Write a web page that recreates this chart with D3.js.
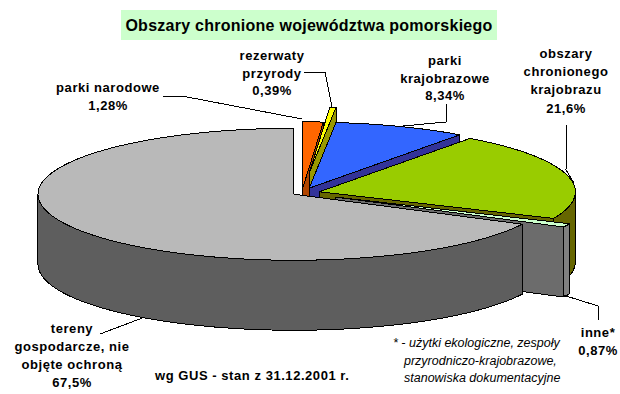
<!DOCTYPE html>
<html>
<head>
<meta charset="utf-8">
<script src="https://d3js.org/d3.v7.min.js"></script>
<style>
  html, body { margin: 0; padding: 0; background: #fff; }
  svg { display: block; }
  text { font-family: "Liberation Sans", Arial, sans-serif; fill: #000; }
</style>
</head>
<body>
<svg id="chart"></svg>
<script>
// dane - od godziny 12 zgodnie z zegarem
const categories = ["parki narodowe", "rezerwaty przyrody", "parki krajobrazowe", "obszary chronionego krajobrazu", "inne*", "tereny gospodarcze, nie objęte ochroną"];
const values = [1.28, 0.39, 8.34, 21.6, 0.87, 67.5];
const valueLabels = ["1,28%", "0,39%", "8,34%", "21,6%", "0,87%", "67,5%"];
const titleText = "Obszary chronione województwa pomorskiego";
const sourceText = "wg GUS - stan z 31.12.2001 r.";
const noteLines = ["* - użytki ekologiczne, zespoły", "przyrodniczo-krajobrazowe,", "stanowiska dokumentacyjne"];

// wyglad
const width = 620, height = 394;
const cx = 302, cy = 193, rx = 256, ry = 66, depth = 70;
const explode = [20, 78, 20, 18, 37, 9.4];
const topColors = ["#ff6600", "#ffff00", "#3366ff", "#99cc00", "#ccffcc", "#b9b9b9"];
const wallColors = ["#b04500", "#999900", "#333399", "#666600", "#6c6c6c", "#5e5e5e"];
const rimColors = ["#b04500", "#999900", "#333399", "#666600", "#808080", "#5e5e5e"];

const labelLines = [
    ["parki narodowe"],
    ["rezerwaty", "przyrody"],
    ["parki", "krajobrazowe"],
    ["obszary", "chronionego", "krajobrazu"],
    ["inne*"],
    ["tereny", "gospodarcze, nie", "objęte ochroną"]
];
const labelPos = [[108, 92], [272, 60], [445, 65], [566, 58], [598, 337], [72, 333]];
const leaders = [
    [[163, 96], [182, 96], [302, 119]],
    [[304, 72], [325, 72], [332, 107]],
    [[446, 104], [446, 122], [403, 126]],
    [[567, 125], [566, 170], [574, 183]],
    [[563, 295], [598, 306], [598, 320]],
    [[100, 334], [145, 317]]
];

const svg = d3.select("#chart").attr("width", width).attr("height", height);

const pie = d3.pie().sort(null).value(d => d)(values);
const line = d3.line().curve(d3.curveLinear);

// punkt na obwodzie elipsy
function rimPoint(c, a, dy) {
    return [c[0] + rx * Math.sin(a), c[1] - ry * Math.cos(a) + (dy || 0)];
}

function sliceCenter(d, i) {
    const mid = (d.startAngle + d.endAngle) / 2;
    return [cx + explode[i] * Math.sin(mid), cy - explode[i] * Math.cos(mid) * ry / rx];
}

function arcAngles(a0, a1) {
    const n = Math.max(2, Math.ceil((a1 - a0) / 0.02));
    return d3.range(n + 1).map(k => a0 + (a1 - a0) * k / n);
}

function poly(points, fill) {
    svg.append("path")
        .attr("d", line(points) + "Z")
        .attr("fill", fill)
        .attr("stroke", "#000")
        .attr("stroke-width", 1)
        .attr("stroke-linejoin", "round")
        .attr("shape-rendering", "crispEdges");
}

pie.forEach((d, i) => {
    const c = sliceCenter(d, i);
    const bottom = [c[0], c[1] + depth];

    // sciana ciecia
    if (Math.sin(d.endAngle) > 0.001) {
        poly([c, rimPoint(c, d.endAngle), rimPoint(c, d.endAngle, depth), bottom], wallColors[i]);
    }
    if (Math.sin(d.startAngle) < -0.001) {
        poly([c, rimPoint(c, d.startAngle), rimPoint(c, d.startAngle, depth), bottom], wallColors[i]);
    }

    // sciana zewnetrzna - tylko widoczna czesc
    const a0 = Math.max(d.startAngle, Math.PI / 2), a1 = Math.min(d.endAngle, Math.PI * 1.5);
    if (a1 > a0) {
        const angles = arcAngles(a0, a1);
        poly(angles.map(a => rimPoint(c, a)).concat(angles.slice().reverse().map(a => rimPoint(c, a, depth))), rimColors[i]);
    }

    // wierzch
    poly([c].concat(arcAngles(d.startAngle, d.endAngle).map(a => rimPoint(c, a))), topColors[i]);
});

// linie odniesienia
leaders.forEach(pts => {
    svg.append("path").attr("d", line(pts)).attr("fill", "none").attr("stroke", "#000")
        .attr("stroke-width", 1).attr("shape-rendering", "crispEdges");
});

// tytul
svg.append("rect").attr("x", 121).attr("y", 10).attr("width", 376).attr("height", 30).attr("fill", "#ccffcc");
svg.append("text").attr("x", 309).attr("y", 31).attr("text-anchor", "middle")
    .style("font-size", "16px").style("font-weight", "bold").style("letter-spacing", "0.26px").text(titleText);

// etykiety
const labelStep = [18, 17.5, 17.5, 18.2, 18, 18];
categories.forEach((name, i) => {
    const lines = labelLines[i].concat(valueLabels[i]);
    const t = svg.append("text").attr("text-anchor", "middle")
        .style("font-size", "13px").style("font-weight", "bold").style("letter-spacing", "0.55px");
    lines.forEach((s, k) => {
        t.append("tspan").attr("x", labelPos[i][0]).attr("y", labelPos[i][1] + k * labelStep[i]).text(s);
    });
});

svg.append("text").attr("x", 155).attr("y", 380)
    .style("font-size", "13px").style("font-weight", "bold").style("letter-spacing", "0.55px").text(sourceText);

const noteX = [393, 404, 404];
noteLines.forEach((s, k) => {
    svg.append("text").attr("x", noteX[k]).attr("y", 347 + k * 17.5)
        .style("font-size", "12.5px").style("font-style", "italic").text(s);
});
</script>
</body>
</html>
